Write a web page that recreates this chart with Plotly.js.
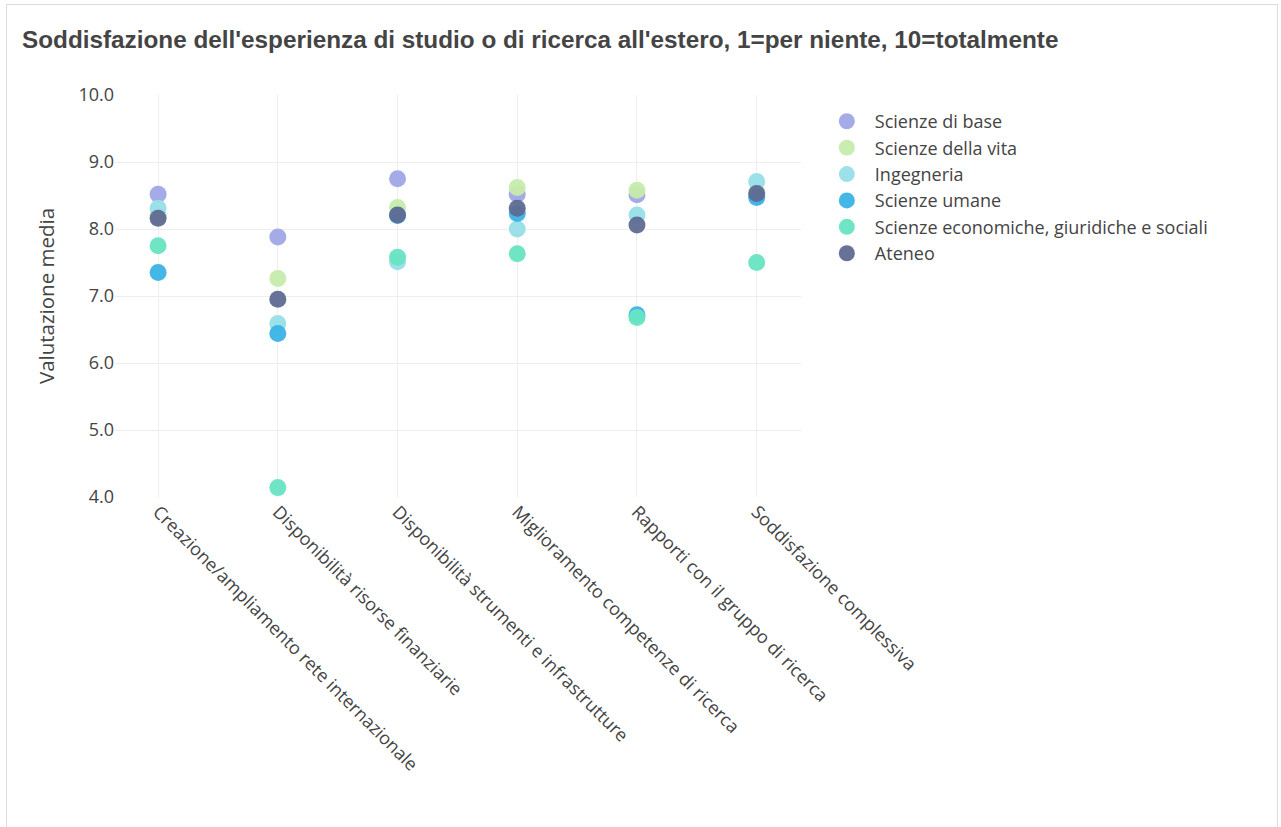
<!DOCTYPE html>
<html>
<head>
<meta charset="utf-8">
<script src="https://cdn.plot.ly/plotly-3.0.1.min.js"></script>
<style>
html,body{margin:0;padding:0;background:#fff;}
#chart{width:1281px;height:827px;}
#frame{position:absolute;left:6px;top:4px;width:1270px;height:840px;border:1px solid #dcdcdc;pointer-events:none;}
</style>
</head>
<body>
<div id="chart"></div>
<div id="frame"></div>
<script>
const categories = [
  "Creazione/ampliamento rete internazionale",
  "Disponibilità risorse finanziarie",
  "Disponibilità strumenti e infrastrutture",
  "Miglioramento competenze di ricerca",
  "Rapporti con il gruppo di ricerca",
  "Soddisfazione complessiva"
];
const seriesNames = [
  "Scienze di base",
  "Scienze della vita",
  "Ingegneria",
  "Scienze umane",
  "Scienze economiche, giuridiche e sociali",
  "Ateneo"
];
const scienzeDiBase   = [8.52, 7.88, 8.75, 8.52, 8.51, 8.50];
const scienzeVita     = [8.20, 7.26, 8.32, 8.62, 8.58, 8.55];
const ingegneria      = [8.31, 6.59, 7.51, 8.00, 8.21, 8.71];
const scienzeUmane    = [7.35, 6.44, 8.20, 8.23, 6.72, 8.47];
const scienzeEconom   = [7.75, 4.14, 7.58, 7.63, 6.68, 7.50];
const ateneo          = [8.16, 6.95, 8.21, 8.31, 8.06, 8.53];
const seriesValues = [scienzeDiBase, scienzeVita, ingegneria, scienzeUmane, scienzeEconom, ateneo];
const colors = ["#a0a7e6", "#c6ebac", "#97dfe8", "#3bb3e6", "#68e4c2", "#5f6a92"];

const traces = seriesNames.map((name, i) => ({
  type: "scatter",
  mode: "markers",
  name: name,
  x: categories,
  y: seriesValues[i],
  marker: {size: 17, color: colors[i], opacity: 0.95}
}));

const layout = {
  width: 1281,
  height: 827,
  paper_bgcolor: "rgba(0,0,0,0)",
  plot_bgcolor: "#fff",
  font: {family: "Open Sans, sans-serif", color: "#444", size: 18},
  title: {
    text: "Soddisfazione dell'esperienza di studio o di ricerca all'estero, 1=per niente, 10=totalmente",
    font: {family: "Liberation Sans, Arial, sans-serif", size: 24.3, color: "#444", weight: "bold"},
    x: 0, xref: "paper", xanchor: "left",
    y: 0.952, yref: "container", yanchor: "middle",
    pad: {l: -93}
  },
  margin: {l: 115, r: 480, t: 95, b: 330},
  xaxis: {
    type: "category",
    range: [-0.36, 5.37],
    tickangle: 45,
    showgrid: true,
    gridcolor: "#eee",
    zeroline: false,
    showline: false,
    ticks: "",
    tickfont: {size: 18, color: "#444"}
  },
  yaxis: {
    range: [4, 10],
    dtick: 1,
    tickformat: ".1f",
    gridcolor: "#eee",
    zeroline: false,
    showline: false,
    automargin: true,
    tickfont: {size: 18, color: "#444"},
    title: {text: "Valutazione media", font: {size: 20.5, color: "#444"}, standoff: 18}
  },
  legend: {
    x: 1.026, xanchor: "left", y: 0.98, yanchor: "top",
    font: {size: 18, color: "#444"},
    itemwidth: 46
  },
  showlegend: true
};

Plotly.newPlot("chart", traces, layout, {displayModeBar: false, responsive: false});
</script>
</body>
</html>
